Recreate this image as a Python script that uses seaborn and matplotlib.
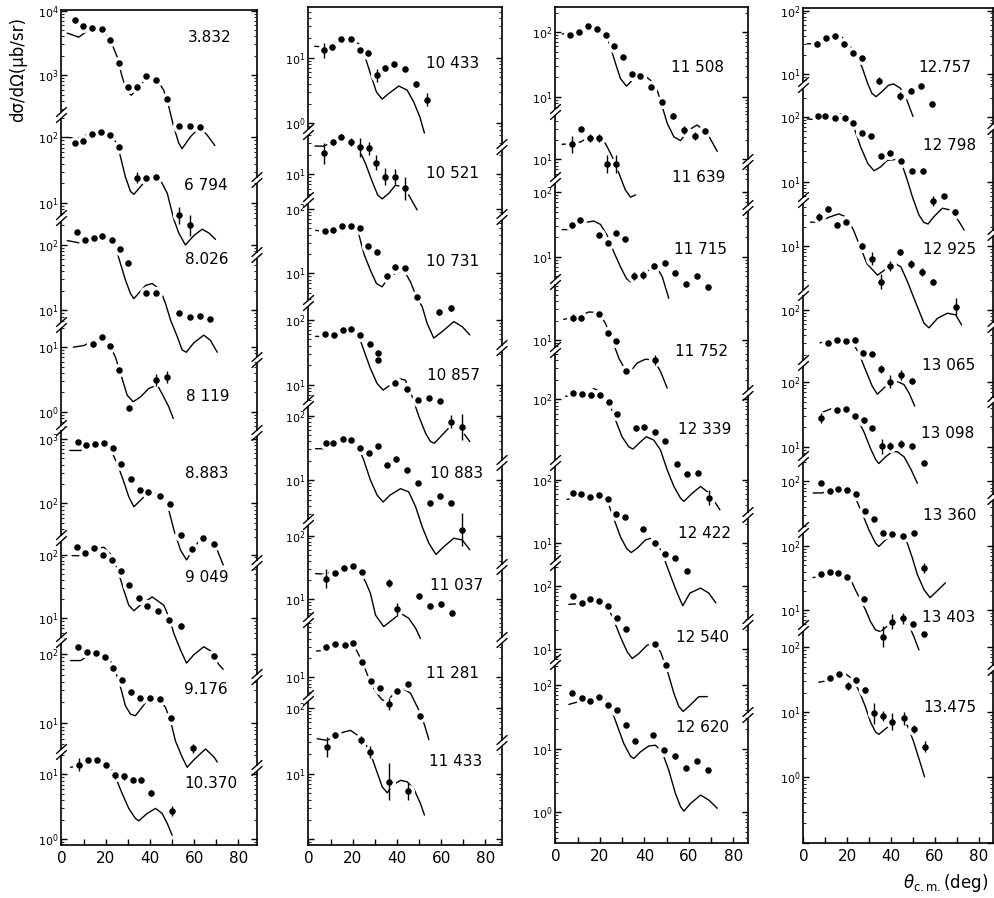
import matplotlib
matplotlib.use("Agg")
import numpy as np
import matplotlib.pyplot as plt
import seaborn as sns
from matplotlib.lines import Line2D
from matplotlib.patches import Rectangle
from matplotlib.ticker import LogLocator, NullFormatter, LogFormatterSciNotation, FuncFormatter

# ---------------- data (angle in deg, cross section in ub/sr) ----------------
# column 1
ang_3832 = [5.9, 9.6, 13.9, 18.1, 22.1, 26.2, 30.0, 34.2, 38.3, 42.9, 47.8, 53.0, 58.0, 62.5]
sig_3832 = [7200, 5680, 5420, 5110, 3540, 1545, 647, 647, 966, 838, 423, 164, 164, 157]
err_3832 = [1, 1, 1, 1, 1, 1, 1.1, 1.1, 1, 1, 1, 1, 1, 1]
tha_3832 = [2.6, 7.8, 13.1, 18.4, 22.1, 25.2, 27.4, 29.7, 31.6, 35.7, 39.5, 43.3, 46.2, 48.5, 50.7, 53.0, 54.5, 58.3, 62.5, 65.8, 69.3]
thv_3832 = [4480, 3880, 5280, 5150, 3450, 1915, 942, 553, 492, 702, 989, 838, 587, 325, 160, 89, 73, 112, 157, 119, 82]

ang_6794 = [5.9, 9.8, 14.0, 17.9, 21.8, 25.9, 34.2, 38.0, 42.9, 53.3, 58.3]
sig_6794 = [81, 89, 112, 122, 110, 71, 24.5, 24, 25, 6.5, 4.6]
err_6794 = [1, 1, 1, 1, 1, 1, 1.2, 1, 1.05, 1.35, 1.45]
tha_6794 = [2.6, 7.1, 11.6, 16.1, 22.1, 25.2, 26.7, 28.9, 31.2, 32.7, 35.7, 38.7, 42.5, 44.7, 47.8, 50.8, 53.0, 56.0, 59.8, 63.6, 66.6, 69.6]
thv_6794 = [100, 98, 110, 126, 112, 79, 50, 25, 15, 13.6, 17.8, 23.7, 26.6, 22.4, 14.1, 5.6, 3.5, 2.3, 3.2, 4.0, 3.5, 2.8]

ang_8026 = [6.8, 10.4, 14.6, 18.4, 22.6, 26.4, 30.1, 38.4, 42.9, 53.0, 57.9, 62.8, 67.3]
sig_8026 = [158, 120, 128, 134, 120, 87, 53, 18.5, 18.5, 9.0, 7.8, 8.3, 7.3]
err_8026 = [1] * 13
tha_8026 = [2.6, 7.8, 13.1, 17.6, 22.1, 24.4, 26.7, 28.9, 31.2, 32.7, 38.0, 41.0, 44.7, 47.0, 49.3, 52.3, 54.5, 56.4, 59.8, 64.3, 67.3, 70.4]
thv_8026 = [116, 107, 128, 138, 128, 92, 51, 29, 18, 15.1, 24, 25.7, 20.4, 12.8, 7.1, 4.0, 2.5, 2.3, 3.2, 4.2, 3.5, 2.3]

ang_8119 = [14.1, 18.1, 21.8, 25.9, 30.4, 42.9, 47.8]
sig_8119 = [11.2, 14.3, 10.6, 4.5, 1.13, 3.1, 3.45]
err_8119 = [1.1, 1.08, 1.05, 1.08, 1.1, 1.25, 1.22]
tha_8119 = [5.3, 10.1, 14.6, 17.6, 20.7, 24.4, 26.7, 29.7, 32.4, 35.7, 39.5, 43.3, 46.2, 48.5, 50.5]
thv_8119 = [10, 10.6, 12.6, 14.3, 12.6, 7.0, 3.9, 1.8, 1.43, 1.7, 2.3, 2.6, 1.7, 1.19, 0.79]

ang_8883 = [7.4, 11.2, 15.1, 19.1, 23.1, 27.0, 31.2, 35.4, 39.2, 44.3, 49.0, 54.2, 58.8, 64.0, 68.9]
sig_8883 = [889, 809, 837, 857, 718, 412, 243, 160, 149, 130, 98, 32, 20, 29.5, 23.4]
err_8883 = [1] * 15
tha_8883 = [3.8, 8.6, 13.1, 17.6, 21.4, 25.2, 28.2, 30.4, 32.7, 35.7, 39.5, 42.5, 46.2, 48.5, 50.8, 53.8, 56.5, 59.8, 63.6, 66.6, 70.4, 73.1]
thv_8883 = [661, 661, 789, 889, 789, 412, 215, 127, 89, 112, 151, 146, 127, 79, 39, 19, 13.4, 20.4, 30.7, 28.8, 19, 11.2]

ang_9049 = [6.8, 10.8, 14.9, 18.8, 22.7, 26.7, 30.7, 34.9, 38.7, 43.7, 48.8, 53.8, 68.9]
sig_9049 = [130, 106, 125, 100, 81, 56, 33, 20.5, 15.5, 13.2, 9.4, 7.6, 2.6]
err_9049 = [1, 1, 1, 1, 1, 1, 1, 1, 1, 1, 1.08, 1.12, 1.08]
tha_9049 = [4.8, 9.4, 14.6, 19.1, 22.1, 25.2, 28.2, 30.4, 32.7, 36.5, 41.0, 46.2, 48.5, 50.8, 53.8, 56.5, 59.8, 64.3, 68.1, 71.1, 73.1]
thv_9049 = [96, 96, 122, 130, 102, 60, 27.5, 16.1, 13.2, 17.1, 21.7, 16.1, 10.6, 5.8, 3.2, 2.0, 2.7, 3.6, 3.0, 1.9, 1.6]

ang_9176 = [7.5, 11.3, 15.4, 19.6, 23.4, 27.4, 31.2, 35.7, 39.8, 44.7, 49.7, 59.5]
sig_9176 = [124, 107, 103, 91, 63, 42, 28, 23, 23.5, 22.3, 11.8, 4.4]
err_9176 = [1, 1, 1, 1, 1, 1, 1, 1, 1, 1, 1, 1.15]
tha_9176 = [4.1, 8.6, 13.1, 17.6, 21.4, 24.4, 26.7, 28.9, 31.2, 33.4, 35.7, 39.5, 43.3, 47.0, 49.3, 51.5, 54.5, 56.8, 59.8, 65.1, 68.9, 70.4]
thv_9176 = [80, 80, 98, 103, 88, 56, 33, 17.9, 13.6, 12.9, 16, 23, 23.5, 17, 10.9, 5.6, 3.3, 2.35, 3.0, 4.3, 3.3, 2.8]

ang_10370 = [8.1, 12.1, 16.1, 20.0, 24.1, 28.2, 32.2, 36.0, 40.4, 50.0]
sig_10370 = [14.1, 17, 16.7, 14.1, 9.7, 9.3, 8.3, 8.3, 5.2, 2.75]
err_10370 = [1.25, 1.05, 1.05, 1.08, 1.12, 1.12, 1.1, 1.1, 1.12, 1.2]
tha_10370 = [4.1, 8.6, 13.1, 17.6, 21.4, 24.4, 27.4, 30.4, 33.4, 34.9, 38.7, 42.5, 45.5, 47.8, 50.0]
thv_10370 = [12.9, 13.7, 16.7, 18, 14.6, 9.1, 5.1, 3.0, 2.1, 1.93, 2.5, 3.0, 2.5, 1.76, 1.16]

# column 2
ang_10433 = [6.9, 10.7, 14.8, 19.0, 23.1, 27.0, 31.0, 34.8, 38.6, 43.8, 48.8, 53.6]
sig_10433 = [12.9, 14.5, 19, 19.4, 13.2, 11.8, 5.4, 7.0, 7.9, 6.8, 4.0, 2.3]
err_10433 = [1.3, 1.1, 1.05, 1.05, 1.08, 1.1, 1.25, 1.12, 1.08, 1.08, 1.1, 1.25]
tha_10433 = [2.8, 6.9, 10.7, 14.5, 19.0, 22.7, 25.8, 28.0, 30.7, 33.3, 36.3, 40.8, 44.6, 47.6, 50.3, 52.4]
thv_10433 = [14.9, 14.5, 15.4, 18.7, 20.1, 16.3, 9.7, 5.7, 3.0, 2.34, 2.85, 3.7, 3.2, 2.1, 1.26, 0.71]

ang_10521 = [6.9, 11.0, 14.9, 19.0, 23.1, 27.3, 30.7, 34.8, 39.0, 43.8]
sig_10521 = [21, 31, 37.7, 31.6, 26, 25, 14.9, 9.1, 9.1, 6.1]
err_10521 = [1.45, 1.1, 1.08, 1.15, 1.4, 1.25, 1.3, 1.35, 1.3, 1.5]
tha_10521 = [2.9, 6.9, 10.7, 14.9, 19.0, 22.7, 25.8, 28.8, 31.3, 33.3, 36.3, 39.3, 42.4, 45.3, 49.1]
thv_10521 = [26.9, 26.9, 30.9, 39, 32.7, 24.5, 14.5, 7.7, 4.8, 4.2, 5.1, 6.8, 6.4, 4.8, 2.85]

ang_10731 = [7.4, 11.2, 15.2, 19.0, 23.2, 27.0, 31.0, 35.6, 39.3, 43.8, 49.1, 58.9, 64.2]
sig_10731 = [45.3, 47.5, 54, 54, 50.5, 26.4, 21.5, 9.1, 12.7, 12.2, 4.4, 2.56, 2.9]
err_10731 = [1, 1, 1, 1, 1, 1, 1, 1, 1, 1, 1, 1.12, 1.12]
tha_10731 = [3.2, 7.4, 11.4, 15.2, 19.0, 22.3, 25.0, 28.0, 30.7, 33.3, 36.3, 39.3, 43.1, 46.1, 49.1, 51.4, 53.6, 56.6, 60.4, 65.7, 69.5, 72.9]
thv_10731 = [46.4, 44.8, 49.2, 57.4, 57.4, 46.4, 20.3, 11.2, 7.0, 6.2, 8.9, 10, 11.2, 7.4, 4.1, 3.06, 1.7, 1.0, 1.26, 1.8, 1.5, 1.12]

ang_10857 = [7.4, 11.5, 15.5, 19.4, 23.5, 27.6, 31.3, 31.3, 39.3, 44.6, 49.6, 54.4, 59.3, 64.2, 69.2]
sig_10857 = [61, 59, 70, 73, 59, 43, 31.4, 24.6, 10.9, 8.7, 5.9, 6.3, 5.8, 2.77, 2.27]
err_10857 = [1, 1, 1, 1, 1, 1, 1, 1, 1.08, 1.08, 1.05, 1.05, 1.05, 1.25, 1.6]
tha_10857 = [3.2, 7.7, 12.2, 15.9, 19.6, 22.3, 25.0, 28.0, 31.0, 33.7, 36.9, 40.8, 43.8, 46.9, 49.9, 52.9, 55.1, 56.9, 61.2, 65.4, 69.5, 72.9]
thv_10857 = [55.7, 55.7, 64.9, 73, 73, 62.7, 34.1, 17.9, 10.6, 8.4, 10, 12.6, 11.9, 6.6, 3.3, 1.84, 1.37, 1.29, 1.84, 2.6, 1.95, 1.37]

ang_10883 = [7.7, 11.2, 15.5, 19.4, 23.5, 27.4, 31.5, 35.6, 39.6, 44.6, 49.4, 54.7, 59.3, 64.2, 69.5]
sig_10883 = [37.5, 37.5, 43.8, 41.2, 31.4, 26.7, 33.3, 17.4, 21, 14.6, 8.9, 4.4, 5.7, 4.5, 1.7]
err_10883 = [1, 1, 1, 1, 1, 1, 1, 1, 1, 1, 1, 1, 1, 1, 1.8]
tha_10883 = [3.2, 7.7, 11.4, 15.2, 19.0, 22.3, 25.0, 28.0, 31.0, 33.7, 36.9, 41.6, 45.3, 48.4, 51.4, 54.4, 57.6, 61.2, 65.7, 69.5, 72.9]
thv_10883 = [30.7, 30.7, 35.8, 41.2, 41.2, 34.5, 20.3, 10, 5.9, 4.6, 5.9, 7.4, 6.6, 3.9, 1.9, 1.06, 0.71, 0.94, 1.27, 1.19, 0.84]

ang_11037 = [8.0, 11.9, 16.0, 20.0, 24.0, 36.3, 40.1, 49.9, 55.1, 60.0, 64.9]
sig_11037 = [21, 25.8, 30.9, 32.8, 26.7, 18, 6.9, 11.3, 7.8, 8.3, 6.0]
err_11037 = [1.4, 1.05, 1.05, 1.05, 1.05, 1.15, 1.25, 1.05, 1.12, 1.1, 1.1]
tha_11037 = [3.2, 7.7, 11.4, 15.2, 19.6, 22.7, 25.8, 28.0, 30.3, 34.0, 37.8, 41.6, 45.3, 48.4, 50.6]
thv_11037 = [25.2, 24.6, 27.7, 32, 34, 29.1, 18.7, 12.3, 5.6, 3.7, 4.7, 6.0, 5.0, 3.5, 2.4]

ang_11281 = [8.1, 12.2, 16.3, 20.2, 24.3, 28.3, 32.1, 36.3, 40.1, 45.1, 50.2]
sig_11281 = [29.6, 32.6, 31.4, 34.1, 17.4, 8.9, 6.8, 3.85, 6.2, 7.9, 2.57]
err_11281 = [1.12, 1.05, 1.05, 1.05, 1.05, 1.05, 1.05, 1.25, 1.05, 1.05, 1.05]
tha_11281 = [3.6, 7.8, 11.6, 15.2, 19.0, 21.7, 24.3, 27.3, 30.3, 33.3, 35.6, 38.6, 42.4, 46.1, 49.9, 52.4, 54.4]
thv_11281 = [25.7, 26.4, 29.6, 31.4, 34.1, 26.4, 17.4, 9.7, 6.0, 4.5, 4.2, 5.7, 6.8, 5.7, 3.1, 1.85, 1.09]

ang_11433 = [8.4, 12.2, 23.8, 28.0, 36.3, 45.1]
sig_11433 = [25.4, 38.1, 32.7, 21.3, 7.5, 5.4]
err_11433 = [1.4, 1.1, 1.15, 1.25, 1.9, 1.35]
tha_11433 = [3.9, 8.4, 12.2, 15.9, 19.0, 22.3, 25.0, 28.0, 30.7, 33.3, 35.6, 38.1, 41.6, 44.6, 47.6, 50.6, 52.4]
thv_11433 = [33.9, 32, 38.1, 42.8, 45.4, 38.1, 32, 20.1, 11.2, 6.3, 5.1, 6.7, 7.9, 7.5, 5.9, 3.5, 2.34]

# column 3
ang_11508 = [6.4, 10.5, 14.7, 18.7, 22.6, 26.2, 30.3, 34.5, 38.2, 43.1, 48.0, 52.9, 57.7, 62.6, 67.4]
sig_11508 = [91, 102, 124, 111, 89, 62, 41, 22.3, 20.8, 14.3, 8.4, 5.1, 3.07, 2.51, 3.0]
err_11508 = [1, 1, 1, 1, 1, 1, 1, 1, 1, 1, 1, 1.1, 1.15, 1.15, 1.1]
tha_11508 = [3.0, 6.7, 10.5, 15.0, 19.5, 22.5, 24.7, 27.0, 29.2, 31.9, 35.2, 39.0, 42.7, 45.7, 48.0, 50.2, 53.2, 56.2, 59.9, 63.7, 68.2, 72.7]
thv_11508 = [94, 94, 100, 124, 112, 94, 59, 32.6, 19.1, 14.6, 19.1, 22.9, 18, 12.7, 7.0, 3.9, 2.4, 2.1, 3.07, 3.66, 2.73, 1.43]

ang_11639 = [7.5, 11.5, 15.4, 19.5, 23.2, 27.3]
sig_11639 = [17.2, 30, 21.8, 21.8, 8.5, 8.5]
err_11639 = [1.35, 1.0, 1.15, 1.15, 1.4, 1.4]
tha_11639 = [3.0, 7.5, 11.2, 15.3, 19.5, 22.5, 25.5, 28.5, 31.4, 33.7, 36.0]
thv_11639 = [17.2, 17.6, 18.7, 22.3, 23.7, 17.6, 11, 6.1, 3.37, 2.6, 2.82]

ang_11715 = [7.5, 11.2, 19.5, 23.5, 27.4, 31.1, 35.5, 39.4, 44.2, 49.0, 53.9, 58.7, 63.7, 68.6]
sig_11715 = [30.7, 36.6, 21.5, 16.4, 23.4, 19.1, 5.05, 5.2, 7.3, 8.1, 5.7, 3.8, 5.05, 3.37]
err_11715 = [1.08, 1.05, 1.08, 1.08, 1.08, 1.08, 1.15, 1.15, 1.1, 1.1, 1.08, 1.08, 1.08, 1.08]
tha_11715 = [3.0, 6.7, 10.5, 14.2, 17.2, 20.2, 23.2, 26.2, 29.2, 31.9, 33.7, 36.0, 41.2, 45.0, 48.0, 50.9]
thv_11715 = [26.4, 26.4, 30.7, 34.5, 35.8, 31.8, 21.5, 11.9, 7.0, 4.6, 4.1, 4.4, 5.9, 7.4, 4.9, 2.29]

ang_11752 = [7.8, 11.5, 19.5, 23.5, 27.4, 31.5, 44.5]
sig_11752 = [22.3, 22.3, 25.7, 12.7, 9.8, 3.26, 4.9]
err_11752 = [1.12, 1.1, 1.05, 1.1, 1.05, 1.05, 1.2]
tha_11752 = [3.7, 7.9, 11.7, 15.0, 19.5, 22.5, 25.5, 28.5, 31.0, 33.7, 36.7, 40.4, 44.2, 47.2, 50.2]
thv_11752 = [21, 22.3, 24.3, 27.3, 26.7, 18, 10, 5.2, 3.66, 3.26, 4.4, 5.05, 4.9, 3.26, 1.8]

ang_12339 = [8.0, 12.0, 16.0, 20.2, 24.0, 27.7, 36.0, 39.7, 44.7, 49.4, 54.4, 59.2, 64.1, 69.2]
sig_12339 = [127, 122, 115, 118, 91, 60, 36.2, 37.5, 31.4, 22.9, 9.9, 7.0, 7.2, 3.03]
err_12339 = [1.05, 1.05, 1.05, 1.05, 1.05, 1.05, 1.05, 1.05, 1.05, 1.05, 1.05, 1.05, 1.05, 1.3]
tha_12339 = [4.5, 8.1, 12.4, 17.2, 21.0, 24.0, 27.0, 29.9, 32.9, 34.8, 37.4, 40.8, 44.2, 47.2, 50.2, 53.2, 56.2, 57.7, 61.5, 65.2, 69.0, 73.9]
thv_12339 = [112, 111, 122, 146, 130, 91, 47.5, 26.4, 18.5, 17, 20.8, 26.4, 23.4, 16.4, 8.1, 4.5, 2.96, 2.64, 3.54, 4.5, 3.54, 1.96]

ang_12422 = [7.8, 11.6, 15.7, 19.6, 23.5, 27.4, 31.3, 39.4, 44.5, 49.1, 53.9, 58.9]
sig_12422 = [62, 60, 54, 58, 50, 29.2, 26, 16.7, 10.2, 6.8, 6.0, 3.76]
err_12422 = [1] * 12
tha_12422 = [5.2, 8.2, 11.9, 16.4, 20.2, 23.5, 26.2, 29.2, 31.9, 34.0, 36.7, 40.4, 42.7, 45.7, 48.0, 50.2, 52.4, 54.7, 57.2, 60.4, 65.2, 68.9, 72.1]
thv_12422 = [48.9, 51.3, 56.4, 58.5, 53.1, 44.5, 24.5, 12.7, 8.4, 7.2, 8.4, 11.3, 12, 10, 7.0, 4.3, 2.69, 1.67, 1.06, 1.67, 2.0, 1.67, 1.17]

ang_12540 = [7.8, 11.7, 15.7, 19.5, 23.7, 27.7, 31.9, 44.7, 49.8]
sig_12540 = [69, 54, 63, 58, 48, 31.9, 21.4, 12.4, 5.7]
err_12540 = [1] * 9
tha_12540 = [6.0, 11.2, 15.7, 20.2, 23.5, 26.2, 29.2, 32.2, 34.5, 37.4, 41.2, 44.2, 47.2, 50.2, 53.2, 55.4, 57.4, 60.7, 64.4, 68.2]
thv_12540 = [51.6, 53, 59.6, 56.1, 46.8, 29, 15.8, 9.2, 7.2, 8.6, 11.7, 12.4, 9.2, 4.7, 2.04, 1.26, 1.05, 1.34, 1.8, 1.8]

ang_12620 = [7.5, 11.7, 15.4, 19.5, 23.7, 27.5, 31.6, 35.6, 44.0, 48.8, 53.8, 58.7, 63.8, 68.7]
sig_12620 = [74, 63, 56, 64, 47.5, 39.7, 23.2, 13, 16.6, 9.4, 7.7, 5.0, 6.3, 4.6]
err_12620 = [1, 1, 1, 1, 1, 1, 1, 1, 1.05, 1.05, 1.05, 1.05, 1.05, 1.05]
tha_12620 = [6.0, 9.7, 14.2, 18.7, 22.5, 24.7, 27.7, 30.7, 33.7, 35.2, 38.2, 41.9, 44.9, 47.9, 50.9, 53.9, 56.2, 57.7, 60.7, 65.2, 68.9, 72.7]
thv_12620 = [49.3, 53.6, 60.4, 68.1, 60.4, 44.8, 23.2, 12, 7.6, 7.0, 8.9, 11, 11.3, 8.9, 4.6, 1.98, 1.23, 1.05, 1.38, 1.87, 1.56, 1.16]

# column 4
ang_12757 = [6.2, 10.4, 14.5, 18.4, 22.5, 26.5, 34.7, 44.0, 48.9, 53.8, 58.8]
sig_12757 = [30.1, 37.4, 39.3, 30.1, 21.5, 17.6, 7.9, 4.5, 5.5, 6.6, 3.36]
err_12757 = [1.1, 1.08, 1.08, 1.08, 1.08, 1.08, 1.12, 1.15, 1.08, 1.1, 1.12]
tha_12757 = [1.7, 6.2, 10.7, 14.5, 17.5, 20.6, 23.6, 26.7, 29.3, 31.2, 33.1, 35.8, 38.9, 41.1, 44.2, 47.2, 50.0]
thv_12757 = [30.1, 30.1, 34.8, 39.3, 38.3, 30.1, 21, 13, 7.1, 5.0, 4.4, 5.3, 6.7, 7.0, 6.0, 3.9, 2.15]

ang_12798 = [6.5, 9.6, 14.6, 18.9, 22.7, 26.5, 31.0, 35.6, 39.4, 44.5, 49.5, 54.4, 59.3, 64.0, 69.2]
sig_12798 = [103, 103, 97, 98, 81, 57, 51, 24.8, 27.9, 20.8, 14.8, 14.8, 5.05, 6.0, 3.4]
err_12798 = [1.08, 1.08, 1.08, 1.08, 1.08, 1.08, 1.08, 1.08, 1.08, 1.08, 1.08, 1.08, 1.2, 1.08, 1.12]
tha_12798 = [1.7, 6.2, 10.7, 16.9, 20.3, 23.0, 26.1, 29.4, 32.2, 35.2, 38.3, 42.1, 45.1, 47.4, 49.7, 52.7, 55.0, 56.9, 59.6, 63.4, 67.2, 71.0, 73.3]
thv_12798 = [94, 91, 100, 112, 94, 70, 34.5, 19.1, 14.8, 17, 21.5, 22.1, 18, 10.6, 5.9, 3.07, 2.34, 2.23, 2.9, 3.9, 3.66, 2.43, 1.8]

ang_12925 = [7.3, 11.3, 15.4, 19.2, 26.8, 31.1, 35.2, 39.3, 44.0, 48.9, 54.2, 59.1, 69.5]
sig_12925 = [27.9, 37.5, 21.5, 23.4, 9.9, 6.4, 2.79, 4.9, 8.1, 5.3, 4.0, 2.79, 1.15]
err_12925 = [1.15, 1.1, 1.08, 1.08, 1.12, 1.25, 1.3, 1.2, 1.12, 1.15, 1.15, 1.12, 1.35]
tha_12925 = [3.2, 6.9, 11.6, 16.1, 19.8, 22.9, 25.9, 29.0, 33.8, 37.2, 41.1, 44.5, 47.5, 50.3, 55.0, 57.3, 61.2, 65.7, 69.5, 72.2]
thv_12925 = [23.4, 23.4, 27.9, 31.4, 27.9, 17.4, 9.7, 5.3, 3.54, 4.3, 5.5, 4.75, 2.79, 1.6, 0.64, 0.54, 0.76, 0.91, 0.86, 0.6]

ang_13065 = [11.3, 15.1, 19.2, 23.3, 27.1, 31.1, 35.5, 39.5, 44.3, 49.4]
sig_13065 = [31, 33.7, 32.6, 34.5, 21.5, 20.3, 11.9, 7.7, 9.8, 7.9]
err_13065 = [1.08, 1.08, 1.08, 1.08, 1.1, 1.05, 1.15, 1.25, 1.2, 1.12]
tha_13065 = [7.5, 11.6, 15.4, 19.2, 22.2, 25.3, 28.3, 31.4, 33.7, 36.7, 39.8, 42.8, 45.9, 48.2, 50.8]
thv_13065 = [30.7, 33, 37, 37.9, 31.8, 21, 11.7, 6.5, 4.9, 6.1, 7.7, 7.7, 6.9, 5.1, 3.2]

ang_13098 = [7.8, 15.4, 19.6, 23.6, 27.6, 31.5, 35.9, 39.7, 44.7, 49.6, 54.9]
sig_13098 = [28.2, 36.6, 37.9, 30, 25.7, 19.8, 10.2, 10.4, 11, 10.2, 5.7]
err_13098 = [1.2, 1.08, 1.08, 1.08, 1.1, 1.05, 1.3, 1.15, 1.15, 1.1, 1.1]
tha_13098 = [6.3, 10.8, 14.6, 18.4, 21.5, 24.5, 27.6, 30.6, 32.9, 34.4, 37.5, 40.5, 42.8, 45.9, 48.9, 52.0]
thv_13098 = [31.8, 36.6, 41.2, 43.8, 38.9, 27.3, 17, 9.4, 6.4, 5.5, 7.0, 8.4, 8.4, 7.0, 4.6, 2.73]

ang_13360 = [8.2, 12.0, 15.8, 19.9, 24.1, 28.0, 32.2, 36.3, 40.2, 45.4, 50.4, 55.0]
sig_13360 = [94, 71, 77, 73, 63, 34.5, 25.7, 16, 15.3, 14.4, 15.7, 4.5]
err_13360 = [1.05, 1.05, 1.05, 1.05, 1.05, 1.05, 1.05, 1.05, 1.05, 1.05, 1.05, 1.2]
tha_13360 = [4.4, 8.5, 13.1, 17.7, 21.2, 24.2, 26.8, 29.9, 32.9, 34.4, 37.5, 41.3, 44.3, 47.4, 49.7, 52.0, 55.0, 57.8, 60.9, 64.8]
thv_13360 = [66.2, 66.2, 74.5, 86.7, 74.5, 51, 31.8, 17.6, 11, 9.8, 12.4, 15.7, 14.8, 11, 6.5, 3.58, 2.1, 1.57, 1.98, 2.67]

ang_13403 = [8.1, 12.0, 15.9, 19.9, 27.8, 36.3, 40.2, 45.5, 50.1, 55.0]
sig_13403 = [37.2, 39.4, 38, 33, 15.1, 3.85, 6.6, 7.4, 6.05, 4.2]
err_13403 = [1.08, 1.08, 1.08, 1.08, 1.1, 1.45, 1.3, 1.2, 1.12, 1.08]
tha_13403 = [4.4, 8.5, 13.1, 17.7, 20.7, 23.8, 26.1, 28.4, 30.6, 32.9, 35.2, 38.2, 42.1, 45.1, 48.1, 50.4, 52.7]
thv_13403 = [32.2, 35, 40.8, 40.8, 35, 20.4, 14.3, 10, 6.6, 4.9, 4.6, 5.6, 6.6, 6.8, 5.8, 3.85, 2.39]

ang_13475 = [12.0, 16.3, 20.3, 24.2, 28.3, 32.4, 36.4, 40.5, 45.8, 50.4, 55.3]
sig_13475 = [34, 38.2, 25, 30.9, 22.2, 9.7, 8.9, 7.2, 8.1, 5.6, 2.98]
err_13475 = [1.1, 1.08, 1.15, 1.08, 1.12, 1.45, 1.2, 1.35, 1.25, 1.15, 1.2]
tha_13475 = [7.0, 11.6, 16.2, 19.2, 22.2, 25.3, 28.3, 30.6, 32.9, 34.4, 37.5, 41.3, 44.3, 47.4, 50.1, 52.7, 55.3]
thv_13475 = [29.1, 30.9, 38.2, 39.1, 32.7, 21.7, 12.1, 7.1, 5.0, 4.6, 5.6, 7.1, 7.6, 6.3, 3.7, 1.95, 1.02]

energy_labels = [
    ["3.832", "6 794", "8.026", "8 119", "8.883", "9 049", "9.176", "10.370"],
    ["10 433", "10 521", "10 731", "10 857", "10 883", "11 037", "11 281", "11 433"],
    ["11 508", "11 639", "11 715", "11 752", "12 339", "12 422", "12 540", "12 620"],
    ["12.757", "12 798", "12 925", "13 065", "13 098", "13 360", "13 403", "13.475"],
]
x_ticks = [0, 20, 40, 60, 80]
y_label = "dσ/dΩ(μb/sr)"
x_label = r"$\theta_{\mathrm{c.m.}}$(deg)"

panel_data = [
    [(ang_3832, sig_3832, err_3832, tha_3832, thv_3832), (ang_6794, sig_6794, err_6794, tha_6794, thv_6794),
     (ang_8026, sig_8026, err_8026, tha_8026, thv_8026), (ang_8119, sig_8119, err_8119, tha_8119, thv_8119),
     (ang_8883, sig_8883, err_8883, tha_8883, thv_8883), (ang_9049, sig_9049, err_9049, tha_9049, thv_9049),
     (ang_9176, sig_9176, err_9176, tha_9176, thv_9176), (ang_10370, sig_10370, err_10370, tha_10370, thv_10370)],
    [(ang_10433, sig_10433, err_10433, tha_10433, thv_10433), (ang_10521, sig_10521, err_10521, tha_10521, thv_10521),
     (ang_10731, sig_10731, err_10731, tha_10731, thv_10731), (ang_10857, sig_10857, err_10857, tha_10857, thv_10857),
     (ang_10883, sig_10883, err_10883, tha_10883, thv_10883), (ang_11037, sig_11037, err_11037, tha_11037, thv_11037),
     (ang_11281, sig_11281, err_11281, tha_11281, thv_11281), (ang_11433, sig_11433, err_11433, tha_11433, thv_11433)],
    [(ang_11508, sig_11508, err_11508, tha_11508, thv_11508), (ang_11639, sig_11639, err_11639, tha_11639, thv_11639),
     (ang_11715, sig_11715, err_11715, tha_11715, thv_11715), (ang_11752, sig_11752, err_11752, tha_11752, thv_11752),
     (ang_12339, sig_12339, err_12339, tha_12339, thv_12339), (ang_12422, sig_12422, err_12422, tha_12422, thv_12422),
     (ang_12540, sig_12540, err_12540, tha_12540, thv_12540), (ang_12620, sig_12620, err_12620, tha_12620, thv_12620)],
    [(ang_12757, sig_12757, err_12757, tha_12757, thv_12757), (ang_12798, sig_12798, err_12798, tha_12798, thv_12798),
     (ang_12925, sig_12925, err_12925, tha_12925, thv_12925), (ang_13065, sig_13065, err_13065, tha_13065, thv_13065),
     (ang_13098, sig_13098, err_13098, tha_13098, thv_13098), (ang_13360, sig_13360, err_13360, tha_13360, thv_13360),
     (ang_13403, sig_13403, err_13403, tha_13403, thv_13403), (ang_13475, sig_13475, err_13475, tha_13475, thv_13475)],
]

# ---------------- layout (pixels of the 995x898 canvas) ----------------
W, H = 995, 898
# x of theta=0, right frame edge, px per degree, top, bottom
col_geom = [(61.5, 257, 2.2125, 10, 845), (308.5, 502, 2.2125, 7, 845),
            (555.5, 748, 2.225, 7, 843), (803.5, 993, 2.19, 8, 843)]
left_breaks = [[115, 218, 325, 428, 538, 640, 752], [132, 200, 303, 403, 522, 620, 698],
               [112, 180, 282, 350, 463, 563, 662], [85, 200, 293, 363, 459, 530, 628]]
right_breaks = [[180, 255, 360, 433, 563, 677, 768], [147, 217, 348, 463, 567, 640, 743],
                [162, 208, 393, 515, 622, 715], [127, 233, 325, 400, 497, 668]]
# reference decade of each panel: (exponent, pixel y of that decade, px per decade)
panel_refs = [
    [(3, 75, 65), (2, 137, 66), (2, 244.3, 66), (1, 346.7, 65), (3, 438.3, 65), (2, 554, 64.3), (2, 653.3, 70), (1, 774, 65.3)],
    [(1, 57.3, 66), (1, 174, 66), (2, 208.3, 65), (2, 319.3, 65.7), (2, 415, 65), (2, 535, 64), (1, 677.3, 65), (2, 707.3, 66)],
    [(2, 31.7, 65), (1, 159.3, 65), (2, 191.7, 65), (1, 340, 65), (2, 399, 65), (2, 479, 64.3), (2, 585.7, 63.7), (2, 684.3, 64)],
    [(2, 10, 64), (2, 116.7, 65), (1, 245.7, 65), (2, 309.3, 65), (2, 381.7, 65), (2, 481, 65), (2, 545.7, 64.3), (2, 646.7, 65.3)],
]
# lowest decade that carries a label in the bottom panel of each column
bottom_label_min = [0, 1, 0, 0]
label_pos = [
    [(210, 38), (206, 185), (207, 260), (208, 397), (207, 473), (207, 577), (206, 689), (211, 783)],
    [(453, 63), (453, 174), (453, 262), (454, 376), (457, 473), (457, 586), (453, 674), (456, 762)],
    [(698, 68), (699, 177), (700, 250), (702, 352), (705, 430), (704, 533), (703, 637), (703, 728)],
    [(945, 67), (950, 146), (950, 250), (949, 365), (948, 433), (950, 515), (949, 617), (950, 708)],
]

sns.set_theme(style="white")
plt.rcParams["font.family"] = ["DejaVu Sans"]
plt.rcParams["axes.linewidth"] = 1.2
plt.rcParams["axes.edgecolor"] = "black"

fig = plt.figure(figsize=(W / 100, H / 100), dpi=100)
fig.patch.set_facecolor("white")


def fx(px):
    return px / W


def fy(py):
    return 1 - py / H


def draw_break(xp, yp):
    fig.add_artist(Rectangle((fx(xp - 3), fy(yp + 2.5)), 6 / W, 5 / H, transform=fig.transFigure,
                             facecolor="white", edgecolor="none", zorder=20))
    for off in (-3, 3):
        fig.add_artist(Line2D([fx(xp - 5), fx(xp + 5)], [fy(yp + off + 4.5), fy(yp + off - 4.5)],
                              transform=fig.transFigure, color="black", lw=1.0, zorder=21))


sci = LogFormatterSciNotation()


def make_fmt(min_exp):
    def f(v, pos):
        if min_exp is not None and v < 10 ** min_exp * 0.99:
            return ""
        return sci(v, pos)
    return FuncFormatter(f)


for ci, (x0, xr, sc, top, bot) in enumerate(col_geom):
    xmax = (xr - x0) / sc
    main = fig.add_axes([fx(x0), fy(bot), (xr - x0) / W, (bot - top) / H])
    main.set_xlim(0, xmax)
    main.set_yticks([])
    main.set_xticks(x_ticks)
    main.set_xticks([10, 30, 50, 70], minor=True)
    main.tick_params(axis="x", which="both", direction="in", length=4, width=1, bottom=True, top=False,
                     labelsize=11, pad=4, colors="black")
    main.set_facecolor("white")
    for s in main.spines.values():
        s.set_color("black")
        s.set_linewidth(1.2)

    edges = [top] + left_breaks[ci] + [bot]
    for pi in range(8):
        t, b = edges[pi], edges[pi + 1]
        k, yk, dec = panel_refs[ci][pi]
        ylo = 10 ** (k - (b - yk) / dec)
        yhi = 10 ** (k + (yk - t + 0.6) / dec)
        ax = fig.add_axes([fx(x0), fy(b), (xr - x0) / W, (b - t) / H])
        ax.set_yscale("log")
        ax.patch.set_alpha(0)
        for s in ax.spines.values():
            s.set_visible(False)
        a, sg, er, ta, tv = panel_data[ci][pi]
        a = np.asarray(a, float)
        sg = np.asarray(sg, float)
        er = np.asarray(er, float)
        # theory curve
        sns.lineplot(x=ta, y=tv, ax=ax, color="black", lw=1.0, sort=False, estimator=None,
                     clip_on=False, zorder=2, legend=False)
        # white halos that break the curve around the data points
        ax.plot(a, sg, "o", ms=8.5, color="white", mec="white", clip_on=False, zorder=3)
        m = er > 1.0
        if m.any():
            ax.vlines(a[m], sg[m] / er[m], sg[m] * er[m], color="black", lw=1.0, clip_on=False, zorder=4)
        sns.scatterplot(x=a, y=sg, ax=ax, color="black", s=22, linewidth=0, clip_on=False,
                        zorder=5, legend=False)
        ax.set_xlim(0, xmax)
        ax.set_ylim(ylo, yhi)
        ax.set_xticks([])
        ax.set_xlabel("")
        ax.set_ylabel("")
        ax.yaxis.set_major_locator(LogLocator(base=10, numticks=20))
        ax.yaxis.set_minor_locator(LogLocator(base=10, subs=np.arange(2, 10), numticks=20))
        ax.yaxis.set_major_formatter(make_fmt(bottom_label_min[ci] if pi == 7 else None))
        ax.yaxis.set_minor_formatter(NullFormatter())
        ax.tick_params(axis="y", which="major", direction="in", length=4, width=1, left=True, right=True,
                       labelleft=True, labelsize=8, pad=2, colors="black")
        ax.tick_params(axis="y", which="minor", direction="in", length=2.2, width=0.8, left=True, right=True)
        lx, ly = label_pos[ci][pi]
        fig.text(fx(lx), fy(ly), energy_labels[ci][pi], ha="center", va="center", fontsize=11, color="black")

    for yb in left_breaks[ci]:
        draw_break(x0, yb)
    for yb in right_breaks[ci]:
        draw_break(xr, yb)

fig.text(fx(18), fy(70), y_label, rotation=90, ha="center", va="center", fontsize=12, color="black")
fig.text(fx(946), fy(883), x_label, ha="center", va="center", fontsize=12, color="black")

fig.savefig("out.png", dpi=100, facecolor="white")
